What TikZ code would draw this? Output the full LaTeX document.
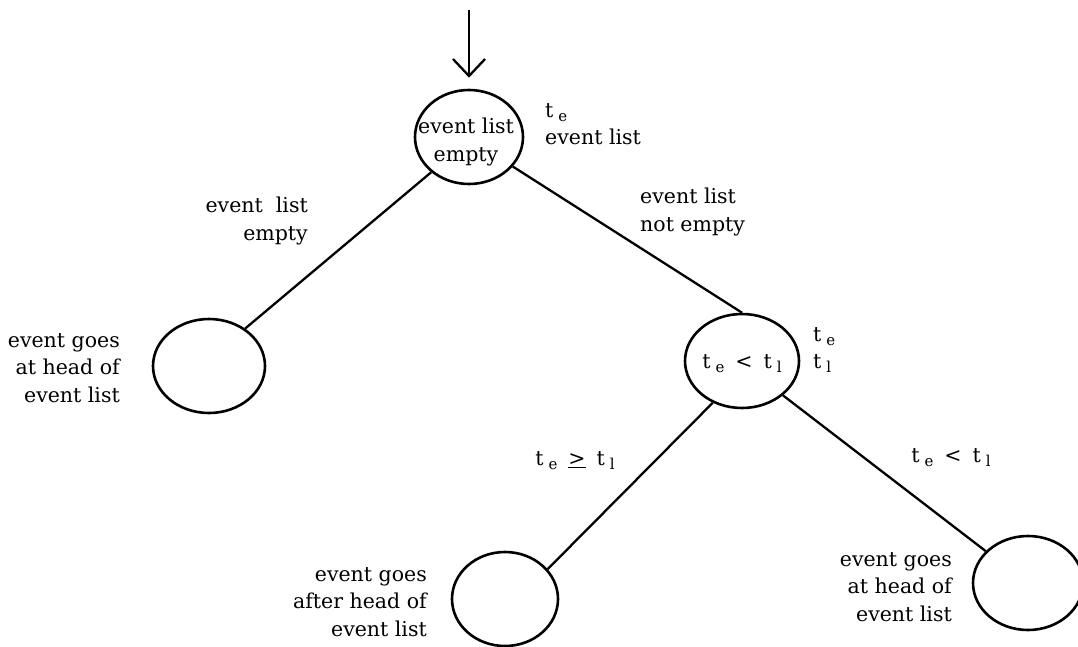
\documentclass[tikz,border=0pt]{standalone}
\usepackage{fontspec}
\setmainfont{DejaVu Serif}
\usetikzlibrary{shapes.geometric,arrows.meta}
\newcommand\tsub[1]{t\hspace{5pt}\raisebox{-4pt}{\fontsize{15}{15}\selectfont #1}}
\newcommand\relgap{\hspace{11pt}}
\begin{document}
\begin{tikzpicture}[x=1pt,y=-1pt,
  every node/.style={font=\fontsize{20.5}{27.5}\selectfont},
  state/.style={draw,ellipse,line width=2.6pt,inner sep=0pt,minimum width=108pt,minimum height=94pt},
  edge/.style={line width=2.3pt},
  lbl/.style={inner sep=0pt}]
\useasboundingbox (0,0) rectangle (1078,647);
\node[state] (top) at (469,137) {};
\node[state,minimum width=112pt] (left) at (209,366) {};
\node[state,minimum width=114pt] (mid) at (742,361) {};
\node[state,minimum width=106pt] (bl) at (505,599) {};
\node[state,minimum width=110pt] (br) at (1028,583) {};
\node[lbl,align=center] (toptxt) at (466,142) {event list\\empty};
\node[lbl] (midtxt) at (742,364) {\tsub{e}\relgap<\relgap\tsub{l}};
\coordinate (start) at (469,10);
\draw[edge,-{Straight Barb[length=17pt,width=32pt,line width=2.3pt]},shorten >=11pt] (start) -- (top.north);
\draw[edge] (top.-137) -- (left.46);
\draw[edge] (top.-34) -- (mid.north);
\draw[edge] (mid.-125) -- (bl.35);
\draw[edge] (mid.-40) -- (br.143);
\node[lbl,align=left,anchor=west] (tl1) at (545,124) {\tsub{e}\\event list};
\node[lbl,align=right,anchor=east] (l1) at (308,221) {event \ list\\empty};
\node[lbl,align=left,anchor=west] (l2) at (640,212) {event list\\not empty};
\node[lbl,align=left,anchor=west] (l3) at (813,350) {\tsub{e}\\\tsub{l}};
\node[lbl,align=right,anchor=east] (l4) at (120,368) {event goes\\at head of\\event list};
\node[lbl] (l5) at (575,461) {\tsub{e}\relgap\underline{>}\relgap\tsub{l}};
\node[lbl] (l6) at (951,458) {\tsub{e}\relgap<\relgap\tsub{l}};
\node[lbl,align=right,anchor=east] (l7) at (427,602) {event goes\\after head of\\event list};
\node[lbl,align=right,anchor=east] (l8) at (952,587) {event goes\\at head of\\event list};
\end{tikzpicture}
\end{document}
